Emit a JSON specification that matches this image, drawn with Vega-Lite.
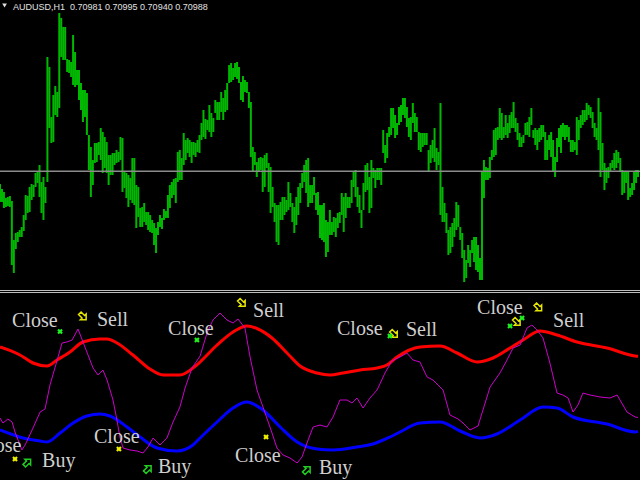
{
  "$schema": "https://vega.github.io/schema/vega-lite/v6.json",
  "background": "#000000",
  "padding": 0,
  "spacing": 0,
  "config": {"view": {"stroke": null}},
  "resolve": {"scale": {"x": "independent", "y": "independent"}},
  "datasets": {
    "bars": [
      {"t":0,"h":0.7086,"l":0.7068},{"t":1,"h":0.7081,"l":0.7068},{"t":2,"h":0.7078,"l":0.7062},{"t":3,"h":0.7072,"l":0.7063},{"t":4,"h":0.7073,"l":0.7064},{"t":5,"h":0.7074,"l":0.7063},{"t":6,"h":0.7069,"l":0.7005},{"t":7,"h":0.7030,"l":0.6997},{"t":8,"h":0.7037,"l":0.7021},{"t":9,"h":0.7038,"l":0.7028},
      {"t":10,"h":0.7040,"l":0.7033},{"t":11,"h":0.7043,"l":0.7033},{"t":12,"h":0.7055,"l":0.7039},{"t":13,"h":0.7075,"l":0.7050},{"t":14,"h":0.7074,"l":0.7057},{"t":15,"h":0.7083,"l":0.7058},{"t":16,"h":0.7086,"l":0.7070},{"t":17,"h":0.7085,"l":0.7073},{"t":18,"h":0.7097,"l":0.7083},{"t":19,"h":0.7099,"l":0.7087},
      {"t":20,"h":0.7105,"l":0.7073},{"t":21,"h":0.7088,"l":0.7057},{"t":22,"h":0.7093,"l":0.7050},{"t":23,"h":0.7083,"l":0.7067},{"t":24,"h":0.7213,"l":0.7088},{"t":25,"h":0.7203,"l":0.7142},{"t":26,"h":0.7153,"l":0.7127},{"t":27,"h":0.7175,"l":0.7128},{"t":28,"h":0.7184,"l":0.7155},{"t":29,"h":0.7178,"l":0.7153},
      {"t":30,"h":0.7257,"l":0.7162},{"t":31,"h":0.7252,"l":0.7213},{"t":32,"h":0.7243,"l":0.7210},{"t":33,"h":0.7243,"l":0.7210},{"t":34,"h":0.7211,"l":0.7198},{"t":35,"h":0.7210,"l":0.7197},{"t":36,"h":0.7208,"l":0.7193},{"t":37,"h":0.7235,"l":0.7185},{"t":38,"h":0.7218,"l":0.7183},{"t":39,"h":0.7200,"l":0.7185},
      {"t":40,"h":0.7200,"l":0.7170},{"t":41,"h":0.7187,"l":0.7160},{"t":42,"h":0.7180,"l":0.7148},{"t":43,"h":0.7180,"l":0.7153},{"t":44,"h":0.7177,"l":0.7135},{"t":45,"h":0.7135,"l":0.7100},{"t":46,"h":0.7123,"l":0.7073},{"t":47,"h":0.7110,"l":0.7085},{"t":48,"h":0.7127,"l":0.7107},{"t":49,"h":0.7127,"l":0.7108},
      {"t":50,"h":0.7128,"l":0.7115},{"t":51,"h":0.7142,"l":0.7110},{"t":52,"h":0.7138,"l":0.7097},{"t":53,"h":0.7133,"l":0.7102},{"t":54,"h":0.7128,"l":0.7097},{"t":55,"h":0.7115,"l":0.7085},{"t":56,"h":0.7115,"l":0.7095},{"t":57,"h":0.7117,"l":0.7095},{"t":58,"h":0.7117,"l":0.7105},{"t":59,"h":0.7120,"l":0.7107},
      {"t":60,"h":0.7118,"l":0.7108},{"t":61,"h":0.7133,"l":0.7110},{"t":62,"h":0.7132,"l":0.7078},{"t":63,"h":0.7098,"l":0.7082},{"t":64,"h":0.7097,"l":0.7072},{"t":65,"h":0.7095,"l":0.7063},{"t":66,"h":0.7092,"l":0.7070},{"t":67,"h":0.7112,"l":0.7067},{"t":68,"h":0.7112,"l":0.7065},{"t":69,"h":0.7085,"l":0.7042},
      {"t":70,"h":0.7083,"l":0.7053},{"t":71,"h":0.7062,"l":0.7043},{"t":72,"h":0.7063,"l":0.7043},{"t":73,"h":0.7067,"l":0.7048},{"t":74,"h":0.7058,"l":0.7045},{"t":75,"h":0.7058,"l":0.7040},{"t":76,"h":0.7055,"l":0.7038},{"t":77,"h":0.7050,"l":0.7037},{"t":78,"h":0.7047,"l":0.7025},{"t":79,"h":0.7042,"l":0.7017},
      {"t":80,"h":0.7048,"l":0.7035},{"t":81,"h":0.7055,"l":0.7043},{"t":82,"h":0.7052,"l":0.7041},{"t":83,"h":0.7061,"l":0.7050},{"t":84,"h":0.7059,"l":0.7052},{"t":85,"h":0.7075,"l":0.7052},{"t":86,"h":0.7085,"l":0.7062},{"t":87,"h":0.7088,"l":0.7072},{"t":88,"h":0.7091,"l":0.7075},{"t":89,"h":0.7092,"l":0.7067},
      {"t":90,"h":0.7118,"l":0.7088},{"t":91,"h":0.7120,"l":0.7090},{"t":92,"h":0.7112,"l":0.7090},{"t":93,"h":0.7137,"l":0.7105},{"t":94,"h":0.7130,"l":0.7110},{"t":95,"h":0.7132,"l":0.7117},{"t":96,"h":0.7130,"l":0.7113},{"t":97,"h":0.7128,"l":0.7107},{"t":98,"h":0.7128,"l":0.7115},{"t":99,"h":0.7127,"l":0.7113},
      {"t":100,"h":0.7130,"l":0.7118},{"t":101,"h":0.7135,"l":0.7117},{"t":102,"h":0.7147,"l":0.7130},{"t":103,"h":0.7160,"l":0.7133},{"t":104,"h":0.7151,"l":0.7131},{"t":105,"h":0.7150,"l":0.7140},{"t":106,"h":0.7165,"l":0.7138},{"t":107,"h":0.7157,"l":0.7133},{"t":108,"h":0.7152,"l":0.7138},{"t":109,"h":0.7170,"l":0.7157},
      {"t":110,"h":0.7168,"l":0.7150},{"t":111,"h":0.7168,"l":0.7150},{"t":112,"h":0.7178,"l":0.7158},{"t":113,"h":0.7172,"l":0.7150},{"t":114,"h":0.7180,"l":0.7158},{"t":115,"h":0.7187,"l":0.7160},{"t":116,"h":0.7205,"l":0.7187},{"t":117,"h":0.7207,"l":0.7188},{"t":118,"h":0.7202,"l":0.7190},{"t":119,"h":0.7207,"l":0.7193},
      {"t":120,"h":0.7208,"l":0.7191},{"t":121,"h":0.7203,"l":0.7187},{"t":122,"h":0.7188,"l":0.7170},{"t":123,"h":0.7194,"l":0.7168},{"t":124,"h":0.7190,"l":0.7178},{"t":125,"h":0.7188,"l":0.7177},{"t":126,"h":0.7178,"l":0.7162},{"t":127,"h":0.7168,"l":0.7113},{"t":128,"h":0.7123,"l":0.7098},{"t":129,"h":0.7118,"l":0.7105},
      {"t":130,"h":0.7108,"l":0.7093},{"t":131,"h":0.7112,"l":0.7098},{"t":132,"h":0.7113,"l":0.7100},{"t":133,"h":0.7112,"l":0.7078},{"t":134,"h":0.7115,"l":0.7083},{"t":135,"h":0.7117,"l":0.7102},{"t":136,"h":0.7107,"l":0.7078},{"t":137,"h":0.7103,"l":0.7057},{"t":138,"h":0.7083,"l":0.7063},{"t":139,"h":0.7067,"l":0.7048},
      {"t":140,"h":0.7065,"l":0.7028},{"t":141,"h":0.7065,"l":0.7025},{"t":142,"h":0.7068,"l":0.7050},{"t":143,"h":0.7073,"l":0.7050},{"t":144,"h":0.7073,"l":0.7055},{"t":145,"h":0.7070,"l":0.7058},{"t":146,"h":0.7088,"l":0.7060},{"t":147,"h":0.7077,"l":0.7063},{"t":148,"h":0.7067,"l":0.7048},{"t":149,"h":0.7063,"l":0.7037},
      {"t":150,"h":0.7073,"l":0.7045},{"t":151,"h":0.7083,"l":0.7055},{"t":152,"h":0.7087,"l":0.7067},{"t":153,"h":0.7097,"l":0.7082},{"t":154,"h":0.7105,"l":0.7088},{"t":155,"h":0.7110,"l":0.7077},{"t":156,"h":0.7112,"l":0.7063},{"t":157,"h":0.7085,"l":0.7067},{"t":158,"h":0.7085,"l":0.7067},{"t":159,"h":0.7093,"l":0.7075},
      {"t":160,"h":0.7077,"l":0.7060},{"t":161,"h":0.7078,"l":0.7055},{"t":162,"h":0.7065,"l":0.7032},{"t":163,"h":0.7065,"l":0.7030},{"t":164,"h":0.7067,"l":0.7028},{"t":165,"h":0.7050,"l":0.7013},{"t":166,"h":0.7048,"l":0.7018},{"t":167,"h":0.7060,"l":0.7035},{"t":168,"h":0.7048,"l":0.7035},{"t":169,"h":0.7053,"l":0.7038},
      {"t":170,"h":0.7052,"l":0.7033},{"t":171,"h":0.7057,"l":0.7042},{"t":172,"h":0.7058,"l":0.7047},{"t":173,"h":0.7077,"l":0.7055},{"t":174,"h":0.7073,"l":0.7038},{"t":175,"h":0.7077,"l":0.7052},{"t":176,"h":0.7073,"l":0.7062},{"t":177,"h":0.7073,"l":0.7062},{"t":178,"h":0.7090,"l":0.7067},{"t":179,"h":0.7098,"l":0.7083},
      {"t":180,"h":0.7100,"l":0.7073},{"t":181,"h":0.7083,"l":0.7063},{"t":182,"h":0.7075,"l":0.7057},{"t":183,"h":0.7060,"l":0.7042},{"t":184,"h":0.7087,"l":0.7060},{"t":185,"h":0.7105,"l":0.7078},{"t":186,"h":0.7107,"l":0.7080},{"t":187,"h":0.7093,"l":0.7057},{"t":188,"h":0.7110,"l":0.7062},{"t":189,"h":0.7102,"l":0.7092},
      {"t":190,"h":0.7100,"l":0.7082},{"t":191,"h":0.7102,"l":0.7090},{"t":192,"h":0.7102,"l":0.7090},{"t":193,"h":0.7102,"l":0.7085},{"t":194,"h":0.7140,"l":0.7117},{"t":195,"h":0.7125,"l":0.7107},{"t":196,"h":0.7137,"l":0.7112},{"t":197,"h":0.7143,"l":0.7133},{"t":198,"h":0.7162,"l":0.7135},{"t":199,"h":0.7162,"l":0.7142},
      {"t":200,"h":0.7155,"l":0.7132},{"t":201,"h":0.7147,"l":0.7135},{"t":202,"h":0.7163,"l":0.7145},{"t":203,"h":0.7165,"l":0.7148},{"t":204,"h":0.7172,"l":0.7155},{"t":205,"h":0.7172,"l":0.7152},{"t":206,"h":0.7163,"l":0.7143},{"t":207,"h":0.7152,"l":0.7133},{"t":208,"h":0.7153,"l":0.7130},{"t":209,"h":0.7167,"l":0.7147},
      {"t":210,"h":0.7157,"l":0.7138},{"t":211,"h":0.7153,"l":0.7138},{"t":212,"h":0.7138,"l":0.7120},{"t":213,"h":0.7137,"l":0.7118},{"t":214,"h":0.7137,"l":0.7123},{"t":215,"h":0.7137,"l":0.7125},{"t":216,"h":0.7137,"l":0.7125},{"t":217,"h":0.7120,"l":0.7098},{"t":218,"h":0.7125,"l":0.7107},{"t":219,"h":0.7130,"l":0.7112},
      {"t":220,"h":0.7142,"l":0.7108},{"t":221,"h":0.7122,"l":0.7100},{"t":222,"h":0.7118,"l":0.7105},{"t":223,"h":0.7167,"l":0.7055},{"t":224,"h":0.7083,"l":0.7048},{"t":225,"h":0.7067,"l":0.7048},{"t":226,"h":0.7057,"l":0.7037},{"t":227,"h":0.7040,"l":0.7015},{"t":228,"h":0.7043,"l":0.7017},{"t":229,"h":0.7047,"l":0.7023},
      {"t":230,"h":0.7052,"l":0.7033},{"t":231,"h":0.7068,"l":0.7040},{"t":232,"h":0.7065,"l":0.7043},{"t":233,"h":0.7043,"l":0.7030},{"t":234,"h":0.7037,"l":0.7012},{"t":235,"h":0.7020,"l":0.6988},{"t":236,"h":0.7010,"l":0.6992},{"t":237,"h":0.7025,"l":0.7007},{"t":238,"h":0.7020,"l":0.7003},{"t":239,"h":0.7030,"l":0.7017},
      {"t":240,"h":0.7033,"l":0.7008},{"t":241,"h":0.7033,"l":0.7000},{"t":242,"h":0.7025,"l":0.6998},{"t":243,"h":0.7012,"l":0.6990},{"t":244,"h":0.7098,"l":0.6990},{"t":245,"h":0.7110,"l":0.7072},{"t":246,"h":0.7103,"l":0.7090},{"t":247,"h":0.7102,"l":0.7090},{"t":248,"h":0.7113,"l":0.7092},{"t":249,"h":0.7120,"l":0.7110},
      {"t":250,"h":0.7140,"l":0.7113},{"t":251,"h":0.7142,"l":0.7115},{"t":252,"h":0.7143,"l":0.7130},{"t":253,"h":0.7162,"l":0.7132},{"t":254,"h":0.7157,"l":0.7130},{"t":255,"h":0.7143,"l":0.7132},{"t":256,"h":0.7155,"l":0.7135},{"t":257,"h":0.7147,"l":0.7132},{"t":258,"h":0.7155,"l":0.7137},{"t":259,"h":0.7158,"l":0.7142},
      {"t":260,"h":0.7168,"l":0.7142},{"t":261,"h":0.7152,"l":0.7138},{"t":262,"h":0.7147,"l":0.7130},{"t":263,"h":0.7137,"l":0.7123},{"t":264,"h":0.7133,"l":0.7123},{"t":265,"h":0.7135,"l":0.7127},{"t":266,"h":0.7147,"l":0.7135},{"t":267,"h":0.7148,"l":0.7135},{"t":268,"h":0.7153,"l":0.7133},{"t":269,"h":0.7162,"l":0.7145},
      {"t":270,"h":0.7140,"l":0.7132},{"t":271,"h":0.7142,"l":0.7125},{"t":272,"h":0.7140,"l":0.7120},{"t":273,"h":0.7142,"l":0.7128},{"t":274,"h":0.7145,"l":0.7130},{"t":275,"h":0.7145,"l":0.7133},{"t":276,"h":0.7138,"l":0.7110},{"t":277,"h":0.7130,"l":0.7110},{"t":278,"h":0.7135,"l":0.7120},{"t":279,"h":0.7138,"l":0.7113},
      {"t":280,"h":0.7130,"l":0.7098},{"t":281,"h":0.7113,"l":0.7093},{"t":282,"h":0.7132,"l":0.7108},{"t":283,"h":0.7142,"l":0.7123},{"t":284,"h":0.7145,"l":0.7117},{"t":285,"h":0.7147,"l":0.7133},{"t":286,"h":0.7145,"l":0.7130},{"t":287,"h":0.7145,"l":0.7133},{"t":288,"h":0.7143,"l":0.7128},{"t":289,"h":0.7130,"l":0.7118},
      {"t":290,"h":0.7130,"l":0.7118},{"t":291,"h":0.7128,"l":0.7120},{"t":292,"h":0.7153,"l":0.7115},{"t":293,"h":0.7150,"l":0.7130},{"t":294,"h":0.7155,"l":0.7142},{"t":295,"h":0.7160,"l":0.7145},{"t":296,"h":0.7160,"l":0.7148},{"t":297,"h":0.7167,"l":0.7150},{"t":298,"h":0.7165,"l":0.7155},{"t":299,"h":0.7163,"l":0.7152},
      {"t":300,"h":0.7158,"l":0.7142},{"t":301,"h":0.7147,"l":0.7133},{"t":302,"h":0.7142,"l":0.7130},{"t":303,"h":0.7172,"l":0.7120},{"t":304,"h":0.7158,"l":0.7093},{"t":305,"h":0.7127,"l":0.7100},{"t":306,"h":0.7107,"l":0.7080},{"t":307,"h":0.7102,"l":0.7087},{"t":308,"h":0.7103,"l":0.7092},{"t":309,"h":0.7107,"l":0.7098},
      {"t":310,"h":0.7110,"l":0.7102},{"t":311,"h":0.7117,"l":0.7100},{"t":312,"h":0.7120,"l":0.7102},{"t":313,"h":0.7118,"l":0.7107},{"t":314,"h":0.7112,"l":0.7098},{"t":315,"h":0.7100,"l":0.7075},{"t":316,"h":0.7098,"l":0.7077},{"t":317,"h":0.7098,"l":0.7087},{"t":318,"h":0.7098,"l":0.7070},{"t":319,"h":0.7082,"l":0.7073},
      {"t":320,"h":0.7087,"l":0.7075},{"t":321,"h":0.7098,"l":0.7080},{"t":322,"h":0.7100,"l":0.7087},{"t":323,"h":0.7100,"l":0.7093}
    ],
    "red": [
      {"t":0,"v":0.680},{"t":10.1,"v":0.648},{"t":16.7,"v":0.616},{"t":23.8,"v":0.604},{"t":28.9,"v":0.628},{"t":35.4,"v":0.660},{"t":42.0,"v":0.700},{"t":50.6,"v":0.712},{"t":54.2,"v":0.712},{"t":59.2,"v":0.696},{"t":67.3,"v":0.648},{"t":75.9,"v":0.592},{"t":82.5,"v":0.568},{"t":91.1,"v":0.568},{"t":97.7,"v":0.596},{"t":101.3,"v":0.620},{"t":109.9,"v":0.688},{"t":118.0,"v":0.740},{"t":125.0,"v":0.764},{"t":130.6,"v":0.752},{"t":137.7,"v":0.716},{"t":145.3,"v":0.656},{"t":151.9,"v":0.604},{"t":160.5,"v":0.576},{"t":167.1,"v":0.568},{"t":173.6,"v":0.576},{"t":182.3,"v":0.588},{"t":190.9,"v":0.596},{"t":195.9,"v":0.608},{"t":201.0,"v":0.640},{"t":212.6,"v":0.680},{"t":222.8,"v":0.684},{"t":231.4,"v":0.656},{"t":241.5,"v":0.620},{"t":249.6,"v":0.636},{"t":258.2,"v":0.676},{"t":264.8,"v":0.708},{"t":273.4,"v":0.744},{"t":282.0,"v":0.728},{"t":292.1,"v":0.700},{"t":307.3,"v":0.676},{"t":321.5,"v":0.644},{"t":323,"v":0.6426}
    ],
    "blue": [
      {"t":0,"v":0.348},{"t":11.6,"v":0.316},{"t":20.3,"v":0.304},{"t":23.8,"v":0.300},{"t":30.4,"v":0.336},{"t":37.0,"v":0.376},{"t":44.0,"v":0.404},{"t":50.6,"v":0.412},{"t":55.7,"v":0.404},{"t":64.3,"v":0.360},{"t":70.9,"v":0.320},{"t":79.5,"v":0.276},{"t":89.6,"v":0.264},{"t":97.7,"v":0.288},{"t":101.3,"v":0.316},{"t":109.9,"v":0.380},{"t":118.0,"v":0.436},{"t":125.0,"v":0.460},{"t":133.1,"v":0.428},{"t":141.8,"v":0.360},{"t":150.4,"v":0.300},{"t":160.5,"v":0.272},{"t":168.6,"v":0.268},{"t":180.7,"v":0.280},{"t":188.8,"v":0.292},{"t":197.4,"v":0.320},{"t":202.5,"v":0.340},{"t":212.6,"v":0.376},{"t":222.8,"v":0.380},{"t":232.9,"v":0.344},{"t":243.0,"v":0.316},{"t":251.6,"v":0.332},{"t":263.3,"v":0.388},{"t":274.9,"v":0.440},{"t":282.0,"v":0.436},{"t":290.1,"v":0.400},{"t":307.3,"v":0.372},{"t":321.5,"v":0.340},{"t":323,"v":0.3426}
    ],
    "mag": [
      {"t":0,"v":0.396},{"t":1.5,"v":0.376},{"t":4.0,"v":0.392},{"t":6.1,"v":0.380},{"t":7.6,"v":0.340},{"t":10.1,"v":0.288},{"t":11.1,"v":0.268},{"t":12.7,"v":0.288},{"t":16.7,"v":0.356},{"t":20.3,"v":0.420},{"t":22.8,"v":0.432},{"t":25.3,"v":0.528},{"t":27.8,"v":0.596},{"t":31.4,"v":0.696},{"t":33.9,"v":0.700},{"t":36.5,"v":0.708},{"t":39.5,"v":0.752},{"t":43.0,"v":0.680},{"t":47.1,"v":0.596},{"t":49.6,"v":0.568},{"t":52.1,"v":0.588},{"t":54.2,"v":0.548},{"t":57.2,"v":0.468},{"t":59.2,"v":0.388},{"t":60.8,"v":0.316},{"t":62.3,"v":0.276},{"t":65.8,"v":0.268},{"t":69.4,"v":0.264},{"t":72.4,"v":0.256},{"t":74.9,"v":0.280},{"t":77.5,"v":0.316},{"t":81.0,"v":0.288},{"t":84.5,"v":0.316},{"t":87.6,"v":0.380},{"t":91.1,"v":0.440},{"t":93.7,"v":0.516},{"t":97.2,"v":0.596},{"t":101.3,"v":0.644},{"t":104.8,"v":0.736},{"t":107.8,"v":0.788},{"t":111.4,"v":0.816},{"t":114.9,"v":0.788},{"t":118.0,"v":0.776},{"t":120.5,"v":0.792},{"t":124.0,"v":0.756},{"t":126.6,"v":0.640},{"t":130.1,"v":0.508},{"t":134.2,"v":0.416},{"t":137.7,"v":0.336},{"t":140.2,"v":0.276},{"t":143.3,"v":0.248},{"t":146.8,"v":0.236},{"t":150.4,"v":0.216},{"t":152.9,"v":0.240},{"t":155.4,"v":0.296},{"t":158.5,"v":0.360},{"t":162.0,"v":0.368},{"t":165.5,"v":0.360},{"t":168.6,"v":0.400},{"t":172.1,"v":0.468},{"t":175.7,"v":0.468},{"t":178.2,"v":0.456},{"t":180.7,"v":0.476},{"t":183.8,"v":0.436},{"t":187.3,"v":0.476},{"t":190.9,"v":0.508},{"t":194.9,"v":0.576},{"t":198.4,"v":0.624},{"t":202.5,"v":0.640},{"t":206.0,"v":0.656},{"t":209.1,"v":0.628},{"t":212.6,"v":0.620},{"t":216.2,"v":0.560},{"t":219.2,"v":0.548},{"t":224.3,"v":0.508},{"t":227.8,"v":0.408},{"t":231.9,"v":0.392},{"t":234.4,"v":0.376},{"t":237.9,"v":0.348},{"t":242.0,"v":0.364},{"t":244.5,"v":0.428},{"t":248.1,"v":0.520},{"t":253.1,"v":0.576},{"t":256.7,"v":0.628},{"t":259.7,"v":0.676},{"t":263.3,"v":0.688},{"t":266.8,"v":0.756},{"t":269.3,"v":0.768},{"t":271.9,"v":0.748},{"t":274.9,"v":0.716},{"t":278.4,"v":0.616},{"t":282.0,"v":0.496},{"t":285.0,"v":0.488},{"t":287.6,"v":0.476},{"t":290.1,"v":0.420},{"t":292.6,"v":0.448},{"t":295.1,"v":0.496},{"t":298.7,"v":0.488},{"t":303.8,"v":0.480},{"t":308.8,"v":0.476},{"t":312.4,"v":0.488},{"t":317.4,"v":0.420},{"t":321.5,"v":0.400},{"t":323,"v":0.3982}
    ],
    "words": [
      {"t":6.1,"v":0.760,"label":"Close"},{"t":49.1,"v":0.764,"label":"Sell"},{"t":85.1,"v":0.728,"label":"Close"},{"t":128.1,"v":0.800,"label":"Sell"},{"t":170.6,"v":0.728,"label":"Close"},{"t":205.5,"v":0.724,"label":"Sell"},{"t":241.5,"v":0.812,"label":"Close"},{"t":280.0,"v":0.760,"label":"Sell"},
      {"t":-12.2,"v":0.260,"label":"Close"},{"t":21.3,"v":0.200,"label":"Buy"},{"t":47.6,"v":0.296,"label":"Close"},{"t":80.0,"v":0.176,"label":"Buy"},{"t":119.0,"v":0.220,"label":"Close"},{"t":161.5,"v":0.172,"label":"Buy"}
    ],
    "sell": [{"t":42.0,"v":0.802},{"t":122.5,"v":0.856},{"t":199.5,"v":0.732},{"t":261.7,"v":0.780},{"t":272.6,"v":0.838}],
    "buy": [{"t":13.9,"v":0.218},{"t":74.9,"v":0.192},{"t":155.4,"v":0.188}],
    "closeG": [{"t":30.4,"v":0.742},{"t":99.7,"v":0.708},{"t":197.4,"v":0.724},{"t":258.2,"v":0.764},{"t":264.3,"v":0.796}],
    "closeY": [{"t":7.6,"v":0.232},{"t":60.2,"v":0.272},{"t":134.7,"v":0.320}]
  },
  "vconcat": [
    {
      "width": 640,
      "height": 290,
      "layer": [
        {
          "data": {"name": "bars"},
          "mark": {"type": "rule", "strokeWidth": 2, "color": "#00b800", "clip": true},
          "encoding": {
            "x": {"field": "t", "type": "quantitative", "scale": {"domain": [0, 324], "nice": false, "zero": false}, "axis": null},
            "y": {"field": "h", "type": "quantitative", "scale": {"domain": [0.698, 0.727], "nice": false, "zero": false}, "axis": null},
            "y2": {"field": "l"}
          }
        },
        {
          "data": {"values": [{"bid": 0.70988}]},
          "mark": {"type": "rule", "color": "#8c8c8c", "strokeWidth": 1.5, "clip": true},
          "encoding": {"y": {"field": "bid", "type": "quantitative"}}
        },
        {
          "data": {"values": [{"t": 6.6, "p": 0.72605, "label": "AUDUSD,H1\u00a0 0.70981 0.70995 0.70940 0.70988"}]},
          "mark": {"type": "text", "align": "left", "baseline": "alphabetic", "font": "Liberation Sans", "fontSize": 9, "color": "#e0e0e0", "clip": true},
          "encoding": {"x": {"field": "t", "type": "quantitative"}, "y": {"field": "p", "type": "quantitative"}, "text": {"field": "label"}}
        },
        {
          "data": {"values": [{"t": 2.3, "p": 0.72645}]},
          "mark": {"type": "point", "shape": "triangle-down", "filled": true, "size": 22, "color": "#e0e0e0", "opacity": 1, "clip": true},
          "encoding": {"x": {"field": "t", "type": "quantitative"}, "y": {"field": "p", "type": "quantitative"}}
        }
      ]
    },
    {
      "width": 640,
      "height": 190,
      "layer": [
        {
          "data": {"values": [{"v": 0.906}, {"v": 0.898}]},
          "mark": {"type": "rule", "color": "#bdbdbd", "strokeWidth": 1, "clip": true},
          "encoding": {"y": {"field": "v", "type": "quantitative", "scale": {"domain": [0.148, 0.908], "nice": false, "zero": false}, "axis": null}}
        },
        {
          "data": {"name": "red"},
          "mark": {"type": "line", "color": "#ff0000", "strokeWidth": 3, "interpolate": "monotone", "clip": true},
          "encoding": {
            "x": {"field": "t", "type": "quantitative", "scale": {"domain": [0, 324], "nice": false, "zero": false}, "axis": null},
            "y": {"field": "v", "type": "quantitative"}
          }
        },
        {
          "data": {"name": "blue"},
          "mark": {"type": "line", "color": "#0000ff", "strokeWidth": 3, "interpolate": "monotone", "clip": true},
          "encoding": {"x": {"field": "t", "type": "quantitative"}, "y": {"field": "v", "type": "quantitative"}}
        },
        {
          "data": {"name": "mag"},
          "mark": {"type": "line", "color": "#cc00cc", "strokeWidth": 1, "clip": true},
          "encoding": {"x": {"field": "t", "type": "quantitative"}, "y": {"field": "v", "type": "quantitative"}}
        },
        {
          "data": {"name": "words"},
          "mark": {"type": "text", "align": "left", "baseline": "alphabetic", "font": "Liberation Serif", "fontSize": 20, "color": "#cfcfcf", "clip": true},
          "encoding": {"x": {"field": "t", "type": "quantitative"}, "y": {"field": "v", "type": "quantitative"}, "text": {"field": "label"}}
        },
        {
          "data": {"name": "sell"},
          "mark": {"type": "point", "shape": "M-1,-0.4L0.1,-0.4L0.1,-0.9L1,0L0.1,0.9L0.1,0.4L-1,0.4Z", "angle": 45, "filled": false, "size": 80, "strokeWidth": 1.5, "color": "#e6e600", "opacity": 1, "clip": true},
          "encoding": {"x": {"field": "t", "type": "quantitative"}, "y": {"field": "v", "type": "quantitative"}}
        },
        {
          "data": {"name": "buy"},
          "mark": {"type": "point", "shape": "M-1,-0.4L0.1,-0.4L0.1,-0.9L1,0L0.1,0.9L0.1,0.4L-1,0.4Z", "angle": -45, "filled": false, "size": 80, "strokeWidth": 1.5, "color": "#22cc22", "opacity": 1, "clip": true},
          "encoding": {"x": {"field": "t", "type": "quantitative"}, "y": {"field": "v", "type": "quantitative"}}
        },
        {
          "data": {"name": "closeG"},
          "mark": {"type": "point", "shape": "cross", "angle": 45, "filled": true, "size": 32, "color": "#22ee22", "opacity": 1, "clip": true},
          "encoding": {"x": {"field": "t", "type": "quantitative"}, "y": {"field": "v", "type": "quantitative"}}
        },
        {
          "data": {"name": "closeY"},
          "mark": {"type": "point", "shape": "cross", "angle": 45, "filled": true, "size": 32, "color": "#f0f000", "opacity": 1, "clip": true},
          "encoding": {"x": {"field": "t", "type": "quantitative"}, "y": {"field": "v", "type": "quantitative"}}
        }
      ]
    }
  ]
}
